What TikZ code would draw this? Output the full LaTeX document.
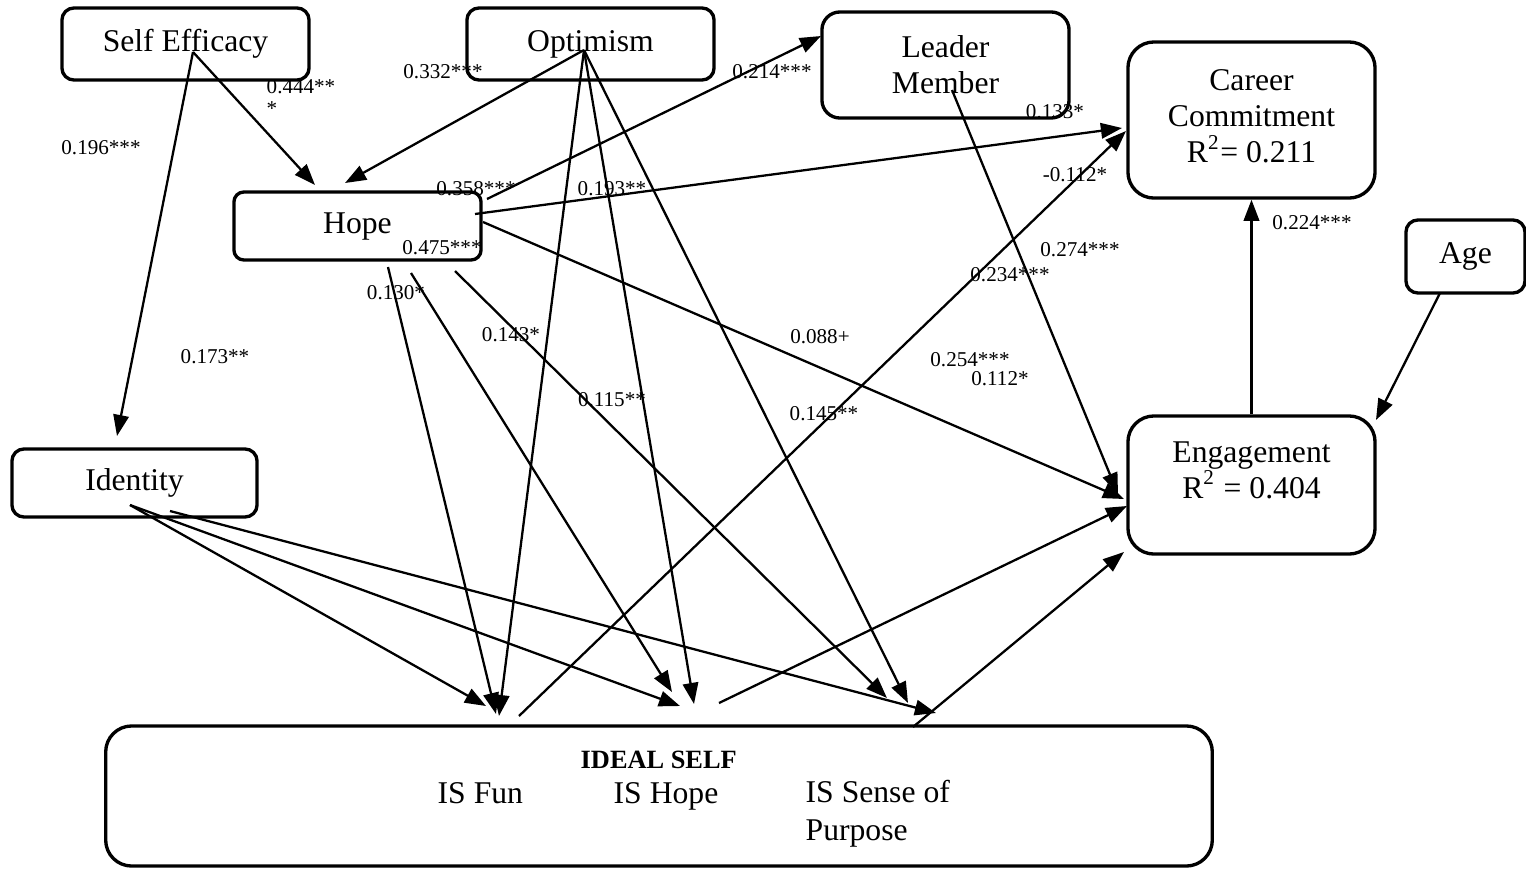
\documentclass[tikz,border=0pt]{standalone}
\usepackage{fontspec}
\setmainfont{Liberation Serif}
\usetikzlibrary{arrows.meta}

\begin{document}
\begin{tikzpicture}[x=0.01cm, y=-0.01cm,
	font=\fontsize{9}{10.2}\selectfont,
	>={Triangle[length=6pt, width=4.4pt]},
	box/.style={draw, line width=0.95pt, rounded corners=0.12cm, inner sep=0pt},
	bigbox/.style={box, rounded corners=0.26cm},
	coef/.style={font=\fontsize{6}{6.3}\selectfont, inner sep=0pt},
	arr/.style={->, line width=0.65pt}]

\useasboundingbox (0,0) rectangle (1526,869);

% constructs
\node[box, minimum width=2.47cm, minimum height=0.72cm] (se) at (185.5,44) {Self Efficacy};
\node[box, minimum width=2.47cm, minimum height=0.72cm] (opt) at (590.5,44) {Optimism};
\node[box, minimum width=2.47cm, minimum height=1.06cm, rounded corners=0.18cm, align=center] (lmx) at (945.5,65) {Leader\\Member};
\node[bigbox, minimum width=2.47cm, minimum height=1.56cm] (cc) at (1251.5,120) {};
\node[align=center] (cctxt) at (1251.5,116.5) {Career\\Commitment\\R\textsuperscript{2}= 0.211};
\node[box, minimum width=1.19cm, minimum height=0.73cm] (age) at (1465.5,256.5) {Age};
\node[box, minimum width=2.47cm, minimum height=0.68cm, rounded corners=0.1cm] (hope) at (357.5,226) {Hope};
\node[box, minimum width=2.45cm, minimum height=0.68cm] (ident) at (134.5,483) {Identity};
\node[bigbox, minimum width=2.47cm, minimum height=1.38cm] (eng) at (1251.5,485) {};
\node[align=center] (engtxt) at (1251.5,470) {Engagement\\R\textsuperscript{2} = 0.404};

% ideal self
\node[bigbox, minimum width=11.06cm, minimum height=1.40cm] (ideal) at (659,796) {};
\node[anchor=base west, inner sep=0pt, font=\fontsize{7.5}{9}\selectfont\bfseries] (idealtxt) at (580,768) {IDEAL SELF};
\node[anchor=base west, inner sep=0pt] (isfun) at (437,803) {IS Fun};
\node[anchor=base west, inner sep=0pt] (ishope) at (613,803) {IS Hope};
\node[anchor=west, inner sep=0pt, align=left, font=\fontsize{9}{10.8}\selectfont] (issense) at (805,814) {IS Sense of\\Purpose};

% line ends
\foreach \n/\x/\y in {
	se-o/193/52, opt-o/584/50, lmx-o/952/90,
	hope-a/315/185, hope-b/345/183, ident-a/117/436, lmx-a/821/36,
	hope-lmx/487/199, hope-cc/475/214, hope-eng/483/222,
	hope-f/388/267, hope-h/411/273, hope-s/455/271,
	cc-a/1122/128, cc-b/1126/131,
	eng-a/1124/499, eng-b/1118/494, eng-c/1127/506, eng-d/1124/552, eng-e/1376/420,
	fun-a/496/714, fun-b/499/716, fun-c/486/706, % into IS Fun
	hp-a/672/692, hp-b/694/704, hp-c/680/706, % into IS Hope
	sp-a/887/698, sp-b/908/703, sp-c/936/713, % into IS Sense of Purpose
	ident-o/130/505, ident-o2/170/511,
	fun-o/519/716, hp-o/719/703, ideal-o/913/727, age-o/1440/293}
	\coordinate (\n) at (\x,\y);

% paths
\foreach \a/\b in {
	se-o/hope-a, se-o/ident-a, opt-o/hope-b,
	hope-lmx/lmx-a, hope-cc/cc-a, hope-eng/eng-a, lmx-o/eng-b,
	opt-o/fun-b, opt-o/hp-b, opt-o/sp-b,
	hope-f/fun-a, hope-h/hp-a, hope-s/sp-a,
	ident-o/fun-c, ident-o/hp-c, ident-o2/sp-c,
	fun-o/cc-b, hp-o/eng-c, ideal-o/eng-d,
	age-o/eng-e, eng.north/cc.south}
	\draw[arr] (\a) -- (\b);

% coefficients
\foreach \n/\x/\y/\t in {
	b196/101/148/0.196***, b332/443/72/0.332***, b214/772/72/0.214***,
	b358/476/189/0.358***, b193/612/189/0.193**, b475/442/248/0.475***,
	b133/1055/112/0.133*, bm112/1075/175/-0.112*, b224/1312/223/0.224***,
	b274/1080/250/0.274***, b234/1010/275/0.234***, b130/396/293/0.130*,
	b143/511/335/0.143*, b173/215/357/0.173**, b088/820/337/0.088+,
	b115/612/400/0.115**, b145/824/414/0.145**, b254/970/360/0.254***,
	b112/1000/379/0.112*}
	\node[coef] (\n) at (\x,\y) {\t};
\node[coef, anchor=north west, align=left] (b444) at (266,79) {0.444**\\*};

\end{tikzpicture}
\end{document}
